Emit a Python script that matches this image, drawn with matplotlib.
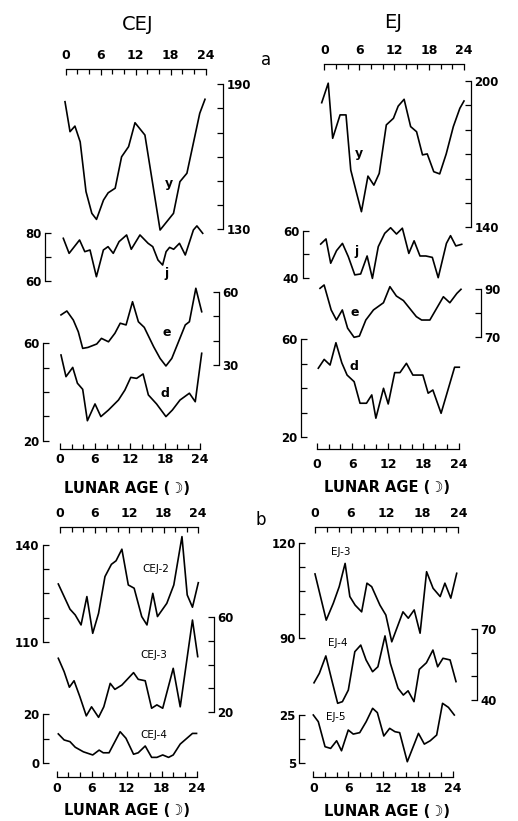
import matplotlib.pyplot as plt

W, H = 518, 821

# ---- part a, CEJ ----
cej_y_age = [0, 0.86, 1.7, 2.6, 3.6, 4.6, 5.4, 6.6, 7.4, 8.6, 9.7, 10.9, 12, 13.7, 16.3, 18.6, 19.7, 20.9, 23.1, 24]
cej_y = [182.8, 170.4, 172.7, 166.2, 145.6, 136.6, 134.1, 142.1, 145.1, 147, 160, 164.2, 174.1, 169, 129.7, 136.6, 149.7, 153.2, 178, 183.8]

cej_j_age = [0, 1.0, 2.8, 3.7, 4.6, 5.7, 6.9, 7.7, 8.6, 9.6, 10.9, 11.7, 13.2, 14.6, 15.4, 16.3, 17.1, 17.7, 18.3, 19.0, 20.0, 21.0, 22.4, 23.0, 24.0]
cej_j = [77.9, 71.6, 77.2, 72.3, 73, 61.8, 73, 74.4, 71.6, 76.5, 79.3, 73.3, 79.3, 75.8, 74.4, 68.8, 66.7, 72.3, 74.1, 73.3, 75.8, 70.9, 81.4, 83.1, 80]

cej_e_age = [0, 1.0, 2.1, 2.95, 3.7, 4.6, 6.1, 6.9, 8.1, 9.2, 10.1, 11.1, 12.2, 13.2, 14.2, 15.8, 16.9, 17.9, 18.9, 21.2, 21.9, 23.0, 24]
cej_e = [50.5, 52.1, 48.4, 43.6, 36.8, 37.2, 38.6, 40.9, 39.5, 43.0, 47.1, 46.4, 55.9, 47.7, 45.4, 37.5, 32.7, 29.6, 32.7, 46.4, 47.7, 61.4, 51.8]

cej_d_age = [0, 0.85, 2.0, 2.8, 3.7, 4.5, 5.8, 6.8, 8.1, 9.8, 10.9, 11.9, 12.9, 14.0, 14.9, 16.3, 17.9, 19.0, 20.3, 21.9, 22.9, 24]
cej_d = [55.2, 46.3, 50.1, 43.6, 41.1, 28.2, 35.1, 29.9, 32.6, 36.7, 40.8, 46.0, 45.6, 47.4, 38.8, 35.1, 29.9, 32.6, 36.7, 39.5, 36.0, 55.9]

# ---- part a, EJ ----
ej_y_age = [0, 1.1, 1.85, 3.1, 4.1, 4.9, 5.9, 6.7, 7.8, 8.8, 9.7, 10.9, 12.1, 12.9, 13.9, 15.0, 16.0, 17.0, 17.8, 18.9, 19.9, 21.0, 22.2, 23.3, 24]
ej_y = [191.1, 199.1, 176.5, 186.1, 186.1, 163.5, 153.9, 146.4, 161.0, 157.3, 162.1, 182.0, 184.7, 189.7, 192.5, 181.3, 179.2, 169.7, 170.1, 162.8, 161.9, 170.1, 181.3, 188.8, 191.8]

ej_j_age = [0, 0.9, 1.7, 2.7, 3.7, 4.7, 5.8, 6.8, 7.9, 8.8, 9.8, 10.9, 11.9, 12.9, 13.9, 15.0, 15.9, 16.9, 17.9, 19.0, 20.0, 21.4, 22.1, 23.0, 24]
ej_j = [54.4, 56.6, 46.2, 51.6, 54.7, 49.0, 41.2, 41.6, 49.3, 39.7, 53.3, 59.0, 61.4, 58.7, 61.2, 50.4, 55.8, 49.3, 49.3, 48.7, 40.0, 54.7, 58.0, 53.6, 54.3]

ej_e_age = [0, 0.7, 1.9, 2.8, 3.8, 4.7, 5.8, 6.7, 7.8, 9.1, 10.8, 11.9, 13.0, 14.2, 16.4, 17.3, 18.7, 21.0, 22.1, 23.3, 24]
ej_e = [90.4, 91.8, 81.4, 77.2, 81.4, 73.8, 70.0, 70.5, 77.2, 81.4, 84.4, 91.1, 87.2, 85.3, 78.6, 77.2, 77.2, 86.9, 84.4, 88.3, 90.0]

ej_d_age = [0, 1.0, 2.0, 3.0, 4.0, 4.9, 6.1, 7.1, 8.2, 9.1, 9.8, 11.1, 11.9, 13.0, 13.9, 15.0, 16.1, 17.8, 18.7, 19.5, 20.9, 23.2, 24]
ej_d = [48.2, 51.8, 49.5, 58.6, 50.4, 45.4, 42.7, 33.9, 33.9, 37.3, 27.8, 40.0, 33.6, 46.4, 46.4, 50.2, 45.4, 45.4, 38.0, 39.3, 29.8, 48.6, 48.6]

# ---- part b, CEJ ----
cej2_age = [0, 1.0, 2.0, 2.9, 3.9, 4.9, 5.9, 6.9, 8.0, 9.1, 9.9, 10.9, 12.0, 13.0, 14.3, 15.2, 16.2, 17.0, 18.6, 19.8, 21.2, 22.1, 23.0, 24]
cej2 = [127.9, 124.0, 120.1, 118.3, 115.2, 124.0, 112.6, 118.8, 130.2, 134.0, 135.1, 138.7, 127.6, 126.6, 117.8, 115.2, 125.0, 117.8, 121.9, 127.6, 142.6, 124.5, 120.7, 128.3]

cej3_age = [0, 1.0, 1.9, 2.7, 3.7, 4.8, 5.7, 6.9, 7.8, 8.9, 9.7, 10.9, 12.9, 13.7, 14.9, 16.0, 16.9, 17.9, 19.7, 20.9, 23.0, 23.9]
cej3 = [42.6, 37.0, 30.5, 33.2, 26.5, 18.5, 22.3, 17.9, 22.3, 32.1, 29.6, 31.4, 36.6, 33.8, 33.2, 21.7, 23.1, 21.7, 38.4, 22.3, 58.6, 43.3]

cej4_age = [0, 1.0, 2.0, 2.9, 4.3, 5.9, 7.0, 7.7, 8.7, 10.6, 11.6, 12.9, 13.7, 14.9, 16.0, 16.9, 17.9, 18.9, 19.7, 20.9, 23.0, 23.7]
cej4 = [11.9, 9.4, 8.7, 6.4, 4.5, 3.2, 5.2, 4.1, 4.1, 12.8, 10.1, 3.5, 4.1, 6.9, 2.2, 2.2, 3.2, 2.2, 3.2, 7.7, 12.1, 12.1]

# ---- part b, EJ ----
ej3_age = [0, 1.9, 3.1, 4.1, 5.1, 5.9, 6.8, 7.9, 8.8, 9.6, 11.0, 12.0, 13.0, 14.9, 15.8, 16.8, 17.8, 18.9, 20.0, 21.2, 22.0, 23.0, 24.0]
ej3 = [110.2, 95.7, 101.0, 106.2, 113.5, 103.1, 100.4, 98.3, 107.3, 106.2, 100.4, 97.3, 88.9, 98.3, 96.3, 98.9, 91.6, 110.9, 105.7, 103.1, 107.3, 102.6, 110.4]

ej4_age = [0, 0.9, 2.0, 3.0, 4.0, 4.8, 5.8, 6.9, 7.9, 8.8, 9.9, 10.8, 12.0, 12.9, 14.2, 15.1, 15.9, 16.9, 17.8, 19.0, 20.1, 20.9, 21.8, 23.0, 24]
ej4 = [47.3, 51.3, 58.7, 48.5, 38.6, 39.3, 44.2, 60.5, 63.3, 57.0, 52.0, 54.1, 67.2, 55.6, 45.0, 42.1, 43.9, 39.3, 53.0, 55.8, 61.2, 54.1, 57.7, 57.0, 47.8]

ej5_age = [0, 0.85, 2.0, 2.95, 3.97, 4.8, 5.95, 6.8, 7.9, 9.0, 10.1, 10.9, 12.0, 13.0, 13.9, 14.7, 16.0, 17.9, 18.9, 19.9, 21.0, 22.0, 23.0, 24]
ej5 = [25.0, 22.2, 11.7, 11.0, 14.2, 10.0, 18.7, 17.0, 17.6, 22.2, 27.8, 26.0, 16.2, 19.4, 18.0, 17.6, 5.4, 17.3, 12.8, 14.2, 16.6, 29.9, 28.2, 25.0]

age_ticks = list(range(0, 25, 2))
age_labels = [0, 6, 12, 18, 24]

fig = plt.figure(figsize=(W / 100, H / 100), dpi=100)
PT = 0.72  # points per pixel


def box(x0, x1, ytop, ybot):
    return [x0 / W, 1 - ybot / H, (x1 - x0) / W, (ybot - ytop) / H]


def curve(x0, x24, ytop, ybot, vtop, vbot, nticks, side, bx, ages, vals):
    ax = fig.add_axes(box(x0, x24, ytop, ybot))
    ax.patch.set_visible(False)
    ax.plot(ages, vals, color='black', lw=1.2, clip_on=False)
    ax.set_xlim(0, 24)
    ax.set_ylim(vbot, vtop)
    ax.set_xticks([])
    for s in ax.spines:
        ax.spines[s].set_visible(s == side)
    off = (x0 - bx) if side == 'left' else (bx - x24)
    ax.spines[side].set_position(('outward', off * PT))
    ax.spines[side].set_linewidth(0.9)
    ax.yaxis.set_ticks_position(side)
    step = (vtop - vbot) / (nticks - 1)
    ticks = [vbot + i * step for i in range(nticks)]
    ax.set_yticks(ticks)
    ax.set_yticklabels([f'{t:g}' if i in (0, nticks - 1) else '' for i, t in enumerate(ticks)],
                       fontweight='bold')
    ax.tick_params(axis='y', direction='in', length=4.5, width=0.9, pad=2.5, labelsize=8.5)
    return ax


def age_axis(x0, x24, liney, where, pad):
    if where == 'top':
        ax = fig.add_axes(box(x0, x24, liney, liney + 10))
    else:
        ax = fig.add_axes(box(x0, x24, liney - 10, liney))
    ax.patch.set_visible(False)
    for s in ax.spines:
        ax.spines[s].set_visible(s == where)
    ax.spines[where].set_linewidth(0.9)
    ax.set_xlim(0, 24)
    ax.set_yticks([])
    ax.xaxis.set_ticks_position(where)
    ax.set_xticks(age_labels)
    ax.set_xticklabels([str(a) for a in age_labels], fontweight='bold')
    ax.set_xticks([a for a in age_ticks if a not in age_labels], minor=True)
    ax.tick_params(axis='x', which='major', direction='in', length=4.5, width=0.9,
                   pad=pad, labelsize=9)
    ax.tick_params(axis='x', which='minor', direction='in', length=3.5, width=0.9)
    if where == 'top':
        ax.tick_params(axis='x', labeltop=True, labelbottom=False)
    return ax


def label(x, y, s, size=8, **kw):
    fig.text(x / W, 1 - y / H, s, fontsize=size, ha='center', va='center', **kw)


# part a curves
curve(65, 205, 84.3, 229.3, 190, 130, 7, 'right', 223, cej_y_age, cej_y)
curve(63.3, 202.7, 233.3, 281, 80, 60, 3, 'left', 45, cej_j_age, cej_j)
curve(61, 201.7, 291.7, 365, 60, 30, 4, 'right', 219, cej_e_age, cej_e)
curve(61, 201.7, 343.3, 440.7, 60, 20, 5, 'left', 42.7, cej_d_age, cej_d)
curve(321.7, 464, 81, 227.3, 200, 140, 7, 'right', 471, ej_y_age, ej_y)
curve(320.7, 461.7, 231, 277.7, 60, 40, 3, 'left', 302.7, ej_j_age, ej_j)
curve(320, 461, 289.3, 337.3, 90, 70, 3, 'right', 481, ej_e_age, ej_e)
curve(318.3, 459.3, 339.3, 437.3, 60, 20, 5, 'left', 300.7, ej_d_age, ej_d)

# part b curves
curve(58.3, 198.3, 545, 641.7, 140, 110, 5, 'left', 42.7, cej2_age, cej2)
curve(58.3, 198.3, 616.7, 712.3, 60, 20, 5, 'right', 214, cej3_age, cej3)
curve(58.3, 198.3, 714.3, 762.7, 20, 0, 3, 'left', 42.7, cej4_age, cej4)
curve(315, 456.7, 542.7, 638.3, 120, 90, 5, 'left', 299.3, ej3_age, ej3)
curve(314, 456, 629.3, 700, 70, 40, 4, 'right', 477, ej4_age, ej4)
curve(313.3, 454.3, 715, 762.7, 25, 5, 3, 'left', 299.3, ej5_age, ej5)

# lunar age axes
age_axis(65.5, 205.5, 68.5, 'top', 5)
age_axis(324.3, 464, 64, 'top', 5)
age_axis(60, 200, 449, 'bottom', 3)
age_axis(316.7, 459, 449.3, 'bottom', 6)
age_axis(60, 198, 527, 'top', 5)
age_axis(315, 458.3, 527.3, 'top', 5)
age_axis(56.7, 196.7, 776.7, 'bottom', 4)
age_axis(313.3, 452.7, 776.7, 'bottom', 4)

xlab = 'LUNAR AGE (\u263d)'
label(127, 488, xlab, 10.5, fontweight='bold')
label(387, 487, xlab, 10.5, fontweight='bold')
label(127, 810, xlab, 10.5, fontweight='bold')
label(387, 811, xlab, 10.5, fontweight='bold')

label(138, 25, 'CEJ', 14)
label(393, 22, 'EJ', 14)
label(266, 60, 'a', 12)
label(261, 520, 'b', 12)

# curve names
label(169, 183, 'y', 9, fontweight='bold')
label(167, 274, 'j', 9, fontweight='bold')
label(167, 332, 'e', 9, fontweight='bold')
label(165, 393, 'd', 9, fontweight='bold')
label(359, 154, 'y', 9, fontweight='bold')
label(357, 251, 'j', 9, fontweight='bold')
label(355, 312, 'e', 9, fontweight='bold')
label(354, 366, 'd', 9, fontweight='bold')
label(156, 569, 'CEJ-2', 7.5)
label(154, 655, 'CEJ-3', 7.5)
label(154, 735, 'CEJ-4', 7.5)
label(341, 552, 'EJ-3', 7.5)
label(338, 643, 'EJ-4', 7.5)
label(336, 717, 'EJ-5', 7.5)

fig.savefig('out.png', dpi=100, facecolor='white')
